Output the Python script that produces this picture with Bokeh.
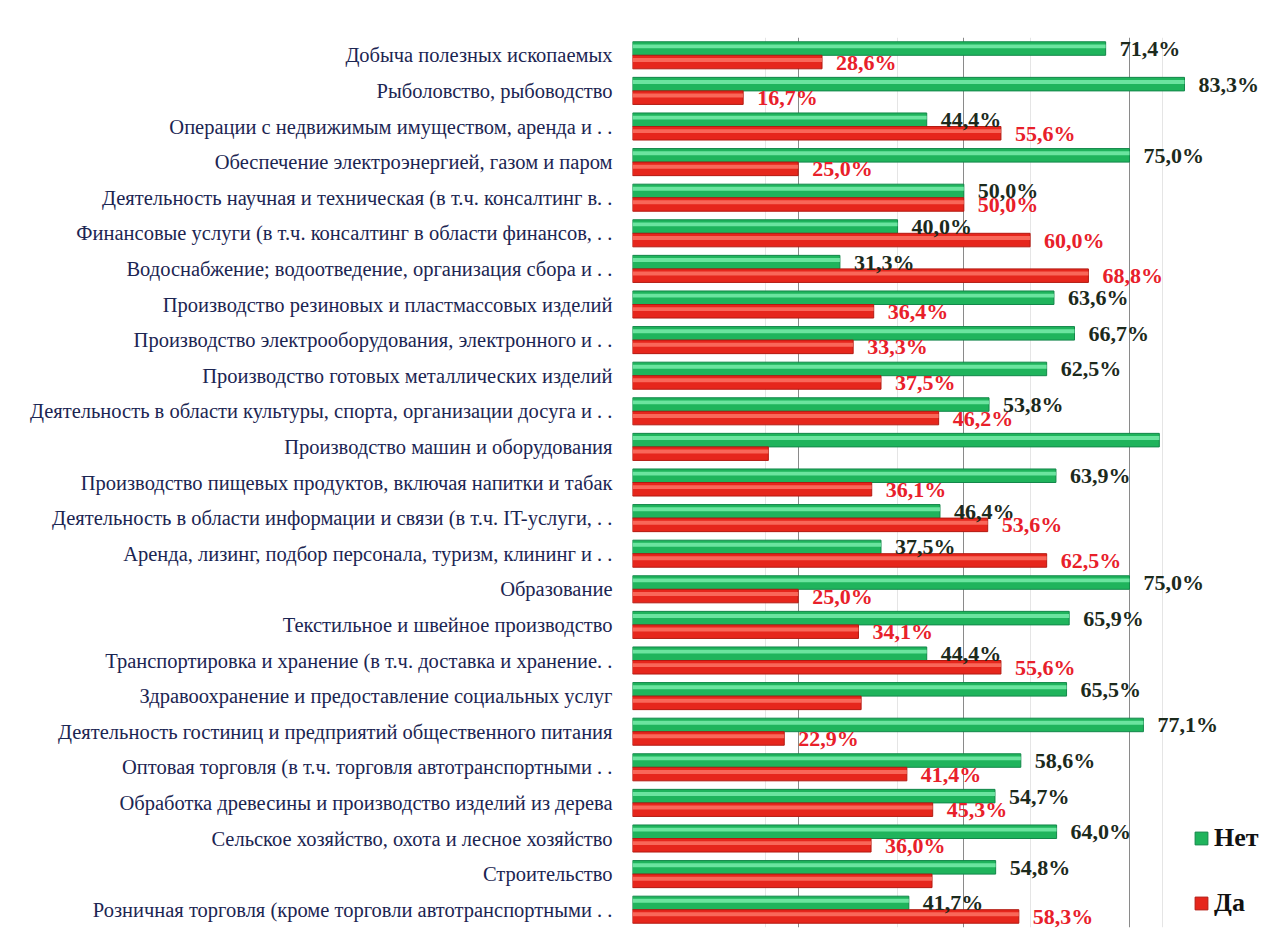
from bokeh.plotting import figure
from bokeh.models import (FactorRange, Range1d, ColumnDataSource, Grid, FixedTicker,
                          Legend, LegendItem)
from bokeh.transform import dodge
from bokeh.core.properties import value
from bokeh.embed import file_html
from bokeh.resources import INLINE

categories = [
    "Добыча полезных ископаемых",
    "Рыболовство, рыбоводство",
    "Операции с недвижимым имуществом, аренда и . .",
    "Обеспечение электроэнергией, газом и паром",
    "Деятельность научная и техническая (в т.ч. консалтинг в. .",
    "Финансовые услуги (в т.ч. консалтинг в области финансов, . .",
    "Водоснабжение; водоотведение, организация сбора и . .",
    "Производство резиновых и пластмассовых изделий",
    "Производство электрооборудования, электронного и . .",
    "Производство готовых металлических изделий",
    "Деятельность в области культуры, спорта, организации досуга и . .",
    "Производство машин и оборудования",
    "Производство пищевых продуктов, включая напитки и табак",
    "Деятельность в области информации и связи (в т.ч. IT-услуги, . .",
    "Аренда, лизинг, подбор персонала, туризм, клининг и . .",
    "Образование",
    "Текстильное и швейное производство",
    "Транспортировка и хранение (в т.ч. доставка и хранение. .",
    "Здравоохранение и предоставление социальных услуг",
    "Деятельность гостиниц и предприятий общественного питания",
    "Оптовая торговля (в т.ч. торговля автотранспортными . .",
    "Обработка древесины и производство изделий из дерева",
    "Сельское хозяйство, охота и лесное хозяйство",
    "Строительство",
    "Розничная торговля (кроме торговли автотранспортными . .",
]

net = [0.714, 0.833, 0.444, 0.750, 0.500, 0.400, 0.313, 0.636, 0.667, 0.625,
       0.538, 0.795, 0.639, 0.464, 0.375, 0.750, 0.659, 0.444, 0.655, 0.771,
       0.586, 0.547, 0.640, 0.548, 0.417]
da = [0.286, 0.167, 0.556, 0.250, 0.500, 0.600, 0.688, 0.364, 0.333, 0.375,
      0.462, 0.205, 0.361, 0.536, 0.625, 0.250, 0.341, 0.556, 0.345, 0.229,
      0.414, 0.453, 0.360, 0.452, 0.583]

net_labels = ["71,4%", "83,3%", "44,4%", "75,0%", "50,0%", "40,0%", "31,3%", "63,6%",
              "66,7%", "62,5%", "53,8%", "", "63,9%", "46,4%", "37,5%", "75,0%",
              "65,9%", "44,4%", "65,5%", "77,1%", "58,6%", "54,7%", "64,0%", "54,8%", "41,7%"]
da_labels = ["28,6%", "16,7%", "55,6%", "25,0%", "50,0%", "60,0%", "68,8%", "36,4%",
             "33,3%", "37,5%", "46,2%", "", "36,1%", "53,6%", "62,5%", "25,0%",
             "34,1%", "55,6%", "", "22,9%", "41,4%", "45,3%", "36,0%", "", "58,3%"]

series_names = ["Нет", "Да"]
grid_ticks = [0.25, 0.50, 0.75]

src = ColumnDataSource(dict(cat=categories, net=net, da=da,
                            net_lbl=net_labels, da_lbl=da_labels))

p = figure(width=1288, height=946,
           y_range=FactorRange(factors=categories[::-1]),
           x_range=Range1d(0, 0.9507),
           x_axis_location=None,
           output_backend="svg", toolbar_location=None,
           min_border_left=632, min_border_right=26,
           min_border_top=37, min_border_bottom=19)
p.outline_line_color = None
p.ygrid.visible = False
p.background_fill_color = "white"

yax = p.yaxis[0]
yax.major_tick_line_color = None
yax.minor_tick_line_color = None
yax.major_tick_out = 0
yax.major_tick_in = 0
yax.axis_line_color = None
yax.major_label_standoff = 20
yax.major_label_text_font = "Liberation Serif"
yax.major_label_text_font_size = "20.5px"
yax.major_label_text_color = "#1b2552"

p.add_layout(Grid(dimension=0, ticker=FixedTicker(ticks=grid_ticks),
                  grid_line_color="#8a8a8a", grid_line_width=1))

G_OFF, R_OFF, BH = 0.19, -0.19, 0.38

g = p.hbar(y=dodge("cat", G_OFF, range=p.y_range), left=0, right="net", height=BH,
           source=src, fill_color="#1fb45c", line_color="#13874a", line_width=1)
r = p.hbar(y=dodge("cat", R_OFF, range=p.y_range), left=0, right="da", height=BH,
           source=src, fill_color="#e6261c", line_color="#b31a12", line_width=1)
# glossy highlights
p.hbar(y=dodge("cat", G_OFF + 0.06, range=p.y_range), left=0, right="net", height=0.11,
       source=src, fill_color="#7ef0b0", fill_alpha=0.8, line_color=None)
p.hbar(y=dodge("cat", R_OFF + 0.06, range=p.y_range), left=0, right="da", height=0.11,
       source=src, fill_color="#ff7d6e", fill_alpha=0.75, line_color=None)

p.text(x="net", y=dodge("cat", G_OFF, range=p.y_range), text="net_lbl", source=src,
       x_offset=14, y_offset=0, text_baseline="middle",
       text_font=value("Liberation Serif"), text_font_style="bold",
       text_font_size="22px", text_color="#1c2a1c")
p.text(x="da", y=dodge("cat", R_OFF, range=p.y_range), text="da_lbl", source=src,
       x_offset=14, y_offset=0, text_baseline="middle",
       text_font=value("Liberation Serif"), text_font_style="bold",
       text_font_size="22px", text_color="#e8202a")

legend = Legend(items=[LegendItem(label=series_names[0], renderers=[g]),
                       LegendItem(label=series_names[1], renderers=[r])],
                location=(561, 9), label_text_font="Liberation Serif",
                label_text_font_style="bold", label_text_font_size="26px",
                label_text_color="#111111",
                glyph_width=16, glyph_height=16, label_standoff=5,
                spacing=35, padding=0, margin=0,
                border_line_color=None, background_fill_alpha=0)
p.add_layout(legend)

open("out.html", "w").write(file_html(p, INLINE))
